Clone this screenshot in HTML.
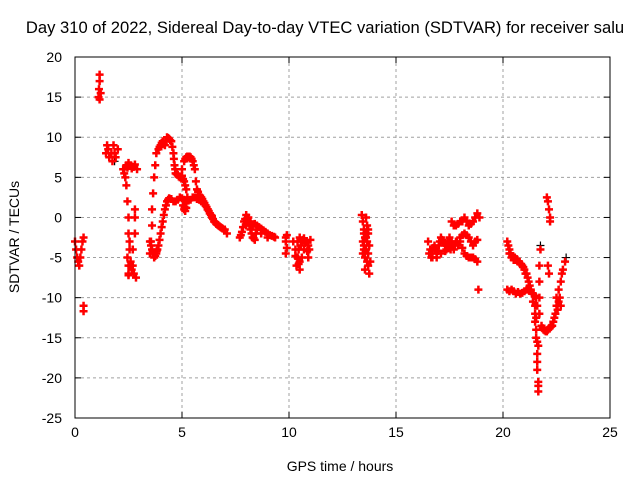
<!DOCTYPE html>
<html><head><meta charset="utf-8"><style>
body{margin:0;background:#fff}
svg{display:block;font-family:"Liberation Sans",sans-serif}
</style></head><body>
<svg id="chart" width="640" height="480">
<rect width="640" height="480" fill="#fff"/>
<g id="grid"></g>
<g id="ticks"></g>
<g id="marks"></g>
<rect x="75" y="57" width="535" height="361" fill="none" stroke="#000" stroke-width="1"/>
<text x="325" y="33" font-size="16.6" text-anchor="middle">Day 310 of 2022, Sidereal Day-to-day VTEC variation (SDTVAR) for receiver salu</text>
<text x="340" y="471" font-size="14" text-anchor="middle">GPS time / hours</text>
<text transform="translate(19,237) rotate(-90)" font-size="14" text-anchor="middle">SDTVAR / TECUs</text>
</svg>
<script>
const xTicks=[0,5,10,15,20,25];
const yTicks=[20,15,10,5,0,-5,-10,-15,-20,-25];
const redT=[0,0.05,0.1,0.15,0.2,0.25,0.3,0.35,0.4,0.4,0.4,
1.1,1.12,1.15,1.15,1.2,1.15,
1.45,1.5,1.55,1.6,1.7,1.8,1.85,1.9,2.0,1.75,
2.25,2.3,2.4,2.5,2.6,2.7,2.8,2.9,2.35,2.45,2.55,2.65,2.75,
2.4,2.45,2.5,2.5,2.55,2.5,2.5,2.6,2.7,2.8,2.8,2.7,2.75,2.85,2.8,2.45,2.55,2.65,2.5,2.6,
3.5,3.55,3.6,3.6,3.65,3.7,3.75,3.8,3.9,4.0,4.1,4.2,4.3,4.4,4.5,4.6,4.65,4.7,4.8,4.9,5.0,5.1,5.2,5.25,3.95,4.05,4.15,4.25,4.35,4.45,4.55,4.62,4.68,4.75,4.85,4.95,5.05,5.15,
3.5,3.6,3.7,3.8,3.9,4.0,4.1,4.2,4.3,4.4,4.5,4.6,4.7,4.8,4.9,5.0,5.1,5.2,3.65,3.75,3.85,3.95,4.05,4.15,4.25,4.35,3.55,3.68,3.82,
5.0,5.1,5.2,5.3,5.4,5.5,5.6,5.65,5.7,5.8,5.9,6.0,6.1,6.2,6.3,6.4,6.5,6.6,6.7,6.8,6.9,7.0,7.1,5.15,5.25,5.35,5.45,5.55,5.75,5.85,5.95,6.05,6.15,6.25,6.35,6.45,6.55,6.65,6.75,6.85,
5.3,5.4,5.5,5.6,5.7,5.8,5.9,6.0,6.1,6.2,6.3,6.4,5.05,5.1,5.15,5.2,5.12,
7.7,7.8,7.9,8.0,8.1,8.2,8.3,8.4,8.0,8.2,8.4,8.6,8.8,9.0,9.2,9.35,8.5,8.7,9.0,8.1,8.3,8.5,8.7,8.9,9.1,9.3,7.75,7.85,7.95,8.05,8.15,8.25,8.35,8.45,
9.85,9.85,9.85,9.9,9.9,10.2,10.3,10.4,10.5,10.5,10.6,10.7,10.8,10.9,11.0,10.4,10.6,10.9,10.35,10.45,10.55,10.65,10.75,10.85,10.95,10.3,10.5,10.7,10.45,
13.4,13.45,13.5,13.55,13.5,13.45,13.55,13.6,13.65,13.7,13.75,13.8,13.6,13.7,13.5,13.6,13.65,13.7,13.75,13.55,13.65,13.45,13.5,13.6,13.7,
16.5,16.6,16.7,16.8,16.9,17.0,17.1,17.2,17.3,17.4,17.5,17.6,17.7,17.8,17.9,16.55,16.65,16.75,16.85,16.95,17.05,17.15,17.25,17.35,17.45,17.55,17.65,17.75,17.85,16.7,16.9,17.1,17.3,17.5,
17.6,17.7,17.8,17.9,18.0,18.1,18.2,18.3,18.4,18.5,18.6,18.7,18.8,18.9,
18.0,18.1,18.2,18.3,18.4,18.5,18.6,18.7,18.8,18.0,18.1,18.2,18.3,18.4,18.5,18.6,18.7,18.8,18.85,
20.2,20.25,20.3,20.35,20.4,20.5,20.6,20.7,20.8,20.9,21.0,21.1,21.2,21.3,21.4,21.5,21.55,21.6,20.3,20.45,20.55,20.65,20.75,20.85,20.95,21.05,21.15,21.25,21.35,
20.2,20.3,20.4,20.5,20.6,20.7,20.8,20.9,21.0,21.1,21.2,21.3,21.4,21.5,
21.5,21.55,21.55,21.6,21.6,21.6,21.65,21.65,21.65,21.7,21.7,21.7,21.75,21.5,21.55,21.6,21.7,21.65,
21.8,21.9,22.0,22.1,22.2,22.3,22.4,22.5,22.5,22.6,22.7,22.8,22.9,22.6,22.7,22.45,22.55,22.65,22.75,21.85,21.95,22.05,22.15,22.25,22.35,
22.05,22.1,22.15,22.2,22.2,22.1,22.15];
const redV=[-3,-4,-5,-5.5,-6,-5,-4,-3,-2.5,-11,-11.7,
15,16,17,17.8,15.5,14.7,
8,9,8.5,7.5,8,9,8,7.5,8.5,7,
6,5.5,6.5,6.8,6.5,6.3,6.6,6,5,6.2,6.4,6.1,6.3,
4,2,0,-2,-4,-6,-7,-5.5,-4,-2,1,-6,-7,-7.5,0,-5,-3,-6.5,-7.2,-6,
-4.5,-3,-1,1,3,5,6.5,8,8.5,9,9.5,9,10,9.8,9.5,8,6.5,5.5,5.3,5,5.2,4.5,3.5,2.5,8.8,9.3,9.2,9.6,9.9,9.6,8.8,7.3,6,5.4,5.1,5.1,4.8,4,
-3,-4,-5,-4.5,-3.5,-2,-0.5,1,2,2.4,2.3,2,2,2.2,2.5,2.4,2.2,2,-4.5,-4.8,-4,-2.8,-1.2,0.3,1.5,2.2,-3.5,-4.5,-4.2,
6,7,7.5,7.5,7.5,7,6,4.5,3.5,2.8,2.5,2,1.5,1,0.5,0,-0.5,-0.8,-1,-1.2,-1.4,-1.5,-2,7.3,7.6,7.6,7.3,6.5,3.2,2.7,2.3,1.8,1.3,0.8,0.3,-0.2,-0.6,-0.9,-1.1,-1.3,
2.1,2.2,2.5,2.5,2.3,2.2,2,1.8,1.5,1,0.5,0.2,1.5,1,0.8,1.2,1.3,
-2.5,-1.8,-0.5,0.3,-0.5,-1.5,-2.5,-2.8,-1,-0.5,-0.8,-1.2,-1.6,-2,-2.3,-2.5,-1.5,-2,-2.5,0,-0.9,-1,-1.4,-1.8,-2.2,-2.4,-2.2,-1.2,-0.2,-0.5,-1,-2,-2.6,-2,
-2.5,-3,-4.5,-2.2,-3.8,-3,-4,-5,-6.5,-2.5,-3,-4,-3,-3.5,-2.8,-3,-5,-5,-6,-4,-3.5,-2.8,-3.2,-4.2,-4,-4.8,-5.5,-2.6,-5.8,
0.3,-0.5,-1.5,-2.5,-3.5,-4.5,-5,-4,-3,-6,-7,-5.5,0,-1.5,-2,-2,-5.5,-4.5,-3.5,-6.5,-1,-3,-4,-2.5,-2,
-3,-4,-4.5,-3.5,-4.5,-3.5,-2.5,-3,-3.5,-3,-2.5,-3,-4,-3,-3.5,-4.5,-5,-3.8,-4,-4.2,-3,-2.8,-3.2,-4,-3.2,-4,-3.5,-3.4,-3,-5,-5,-4.5,-4.2,-3.8,
-0.5,-1,-1,-0.8,-0.5,-0.5,0,-0.4,-1,-0.8,-0.5,0,0.5,0,
-3,-3.8,-4.5,-4.8,-5,-5,-5,-5.2,-5.5,-2.5,-2.2,-2,-2.2,-2.5,-3,-3.5,-3,-2.8,-9,
-3,-3.5,-4,-4.5,-5,-5.3,-5.3,-5.5,-5.8,-6,-6.5,-7,-8,-9,-10.5,-12,-10,-11,-4.5,-4.8,-5,-5.2,-5.5,-5.8,-6.2,-7,-7.5,-8.5,-9.5,
-9,-9.2,-9,-9.2,-9.5,-9.3,-9.5,-9.4,-9.2,-9,-9,-9.2,-9.5,-9.8,
-13,-15,-14,-17,-18,-19,-20.5,-21.7,-16,-12,-8,-6,-4,-11,-12.5,-15.5,-10,-21,
-13.5,-14,-14.2,-14,-13.7,-13.5,-12.5,-11,-10,-9,-8,-6.5,-5.5,-10.5,-11,-12,-11.5,-10,-7,-13.8,-14.1,-14.2,-13.8,-13.6,-13,
2.5,2,1,0,-0.5,-6,-7];
const blackT=[21.75,22.95,1.85];
const blackV=[-3.5,-5,7];

const svgNS="http://www.w3.org/2000/svg";
const L=75,R=610,T=57,B=418;
const xS=t=>L+(t-0)/25*(R-L);
const yS=v=>B-(v+25)/45*(B-T);
const grid=document.getElementById('grid'),ticks=document.getElementById('ticks'),marks=document.getElementById('marks');
function mk(tag,attrs,parent){const e=document.createElementNS(svgNS,tag);for(const k in attrs)e.setAttribute(k,attrs[k]);parent.appendChild(e);return e;}
xTicks.forEach(t=>{const x=xS(t);
 if(t>0&&t<25){const g=mk('line',{x1:x,x2:x,y1:T,y2:B,stroke:'#a0a0a0','stroke-dasharray':'3,3'},grid);
 
 }
 mk('line',{x1:x,x2:x,y1:B,y2:B-6,stroke:'#000'},ticks);mk('line',{x1:x,x2:x,y1:T,y2:T+6,stroke:'#000'},ticks);
 const lb=mk('text',{x:x,y:B+19,'font-size':14,'text-anchor':'middle'},ticks);lb.textContent=t;
 
 
});
yTicks.forEach(v=>{const y=yS(v);
 if(v>-25&&v<20){const g=mk('line',{x1:L,x2:R,y1:y,y2:y,stroke:'#a0a0a0','stroke-dasharray':'3,3'},grid);
 
 }
 mk('line',{x1:L,x2:L+6,y1:y,y2:y,stroke:'#000'},ticks);mk('line',{x1:R,x2:R-6,y1:y,y2:y,stroke:'#000'},ticks);
 const lb=mk('text',{x:L-13,y:y+5,'font-size':14,'text-anchor':'end'},ticks);lb.textContent=v;
 
 
});
function plus(t,v,col,w){const x=xS(t),y=yS(v);
 const p=mk('path',{d:`M${x-4},${y}H${x+4}M${x},${y-4}V${y+4}`,stroke:col,'stroke-width':w,fill:'none'},marks);
 
 
}
blackT.forEach((t,i)=>plus(t,blackV[i],'#000',1.2));
redT.forEach((t,i)=>plus(t,redV[i],'#f00',2.5));
</script>
</body></html>
